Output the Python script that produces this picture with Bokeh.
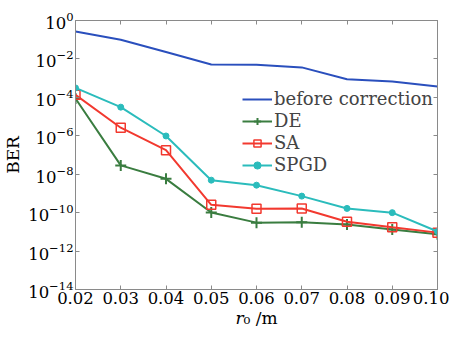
from bokeh.plotting import figure
from bokeh.models import FixedTicker, NumeralTickFormatter, LogAxis, LinearAxis, Legend, LegendItem, CustomJSTickFormatter
from bokeh.embed import file_html
from bokeh.resources import INLINE

r0 = [0.02, 0.03, 0.04, 0.05, 0.06, 0.07, 0.08, 0.09, 0.10]
ber_before = [10**-0.57, 10**-1.0, 10**-1.64, 10**-2.29, 10**-2.30, 10**-2.44, 10**-3.06, 10**-3.17, 10**-3.44]
ber_de = [10**-4.06, 10**-7.54, 10**-8.24, 10**-9.99, 10**-10.52, 10**-10.50, 10**-10.62, 10**-10.88, 10**-11.12]
ber_sa = [10**-3.87, 10**-5.58, 10**-6.75, 10**-9.59, 10**-9.80, 10**-9.78, 10**-10.47, 10**-10.76, 10**-11.04]
ber_spgd = [10**-3.51, 10**-4.51, 10**-6.01, 10**-8.31, 10**-8.57, 10**-9.14, 10**-9.78, 10**-10.0, 10**-10.98]
x_ticks = [0.02, 0.03, 0.04, 0.05, 0.06, 0.07, 0.08, 0.09, 0.10]
y_ticks = [1e-14, 1e-12, 1e-10, 1e-8, 1e-6, 1e-4, 1e-2, 1e0]

FONT = "DejaVu Serif"
AX = "#8a8a8a"

p = figure(width=449, height=330, x_range=(0.02, 0.10), y_range=(1e-14, 1e0),
           y_axis_type="log", output_backend="svg", toolbar_location=None,
           min_border_left=73, min_border_right=12, min_border_top=20, min_border_bottom=39)
p.xgrid.visible = False
p.ygrid.visible = False
p.outline_line_color = AX
p.background_fill_color = "white"
p.border_fill_color = "white"

def style(ax):
    ax.axis_line_color = AX
    ax.major_tick_line_color = AX
    ax.major_tick_in = 4
    ax.major_tick_out = 0
    ax.minor_tick_line_color = None
    ax.major_label_text_font = FONT
    ax.major_label_text_font_size = "16.5px"
    ax.major_label_text_color = "black"
    ax.major_label_standoff = 2
    ax.axis_label_text_font = FONT
    ax.axis_label_text_font_style = "normal"
    ax.axis_label_text_font_size = "17px"
    ax.axis_label_text_color = "black"

p.xaxis.ticker = FixedTicker(ticks=x_ticks)
p.xaxis.formatter = NumeralTickFormatter(format="0.00")
p.yaxis.ticker = FixedTicker(ticks=y_ticks)
style(p.xaxis[0]); style(p.yaxis[0])
p.yaxis.axis_label = "BER"
p.yaxis.axis_label_standoff = 2
p.xaxis.axis_label = "\U0001D45F\u2080 /m"
p.xaxis.axis_label_standoff = 1

top = LinearAxis(ticker=FixedTicker(ticks=x_ticks), formatter=CustomJSTickFormatter(code="return ''"))
right = LogAxis(ticker=FixedTicker(ticks=y_ticks), formatter=CustomJSTickFormatter(code="return ''"))
for ax in (top, right):
    style(ax)
    ax.major_label_standoff = 0
p.add_layout(top, "above")
p.add_layout(right, "right")

c_b, c_de, c_sa, c_sp = "#2a4fbd", "#3a7d40", "#f2392f", "#2bbcbc"
lb = p.line(r0, ber_before, line_color=c_b, line_width=2)
l1 = p.line(r0, ber_de, line_color=c_de, line_width=2)
m1 = p.scatter(r0, ber_de, marker="cross", size=11, line_color=c_de, line_width=2)
l2 = p.line(r0, ber_sa, line_color=c_sa, line_width=2)
m2 = p.scatter(r0, ber_sa, marker="square", size=9, line_color=c_sa, fill_color="white", fill_alpha=0, line_width=1.5)
l3 = p.line(r0, ber_spgd, line_color=c_sp, line_width=2)
m3 = p.scatter(r0, ber_spgd, marker="circle", size=6, line_color=c_sp, fill_color=c_sp)

legend = Legend(items=[LegendItem(label="before correction", renderers=[lb]),
                       LegendItem(label="DE", renderers=[l1, m1]),
                       LegendItem(label="SA", renderers=[l2, m2]),
                       LegendItem(label="SPGD", renderers=[l3, m3])],
                location=(167, 114), border_line_color=None, background_fill_alpha=0,
                label_text_font=FONT, label_text_font_size="18px", glyph_width=30,
                glyph_height=18, label_standoff=2, spacing=1, padding=0, margin=0,
                label_height=18)
p.add_layout(legend)

open("out.html", "w").write(file_html(p, INLINE))
